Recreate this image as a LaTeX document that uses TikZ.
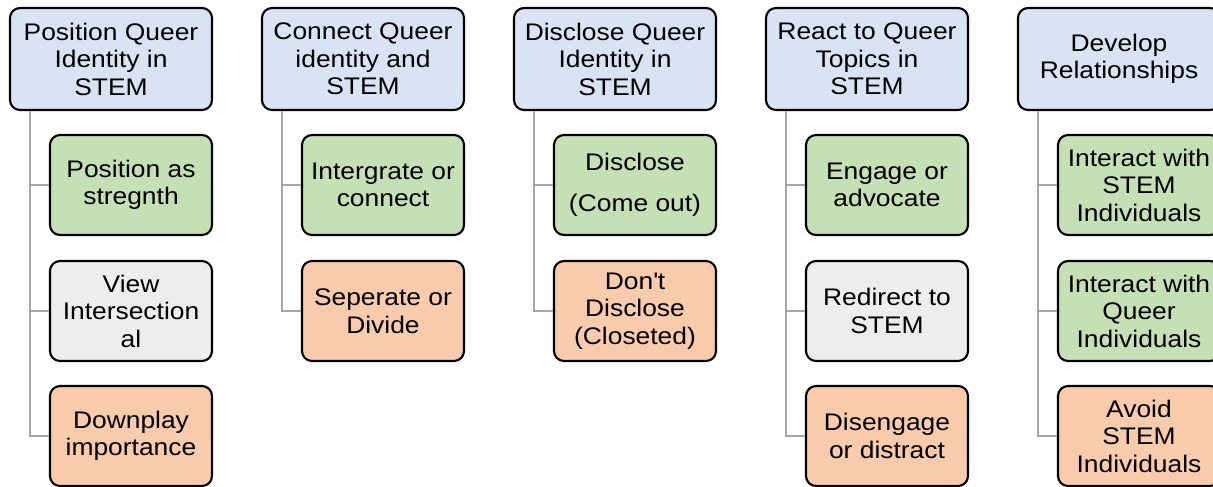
\documentclass[tikz,border=0pt]{standalone}
\usepackage{fontspec}
\setmainfont{Liberation Sans}[FakeStretch=1.1]
\usepackage{tikz}
\definecolor{headblue}{HTML}{DAE3F3}
\definecolor{posgreen}{HTML}{C5E0B4}
\definecolor{midgray}{HTML}{EDEDED}
\definecolor{negorange}{HTML}{F8CBAD}
\definecolor{linkgray}{HTML}{A6A6A6}

\begin{document}
\begin{tikzpicture}[x=0.75pt,y=-0.75pt,
  box/.style={shape=rectangle,rounded corners=7.5pt,draw=black,line width=1.6pt,align=center,inner sep=0pt,font=\fontsize{18}{20.6}\selectfont},
  head/.style={box,fill=headblue,minimum width=151.5pt,minimum height=76.5pt},
  leaf/.style={box,minimum width=121.5pt,minimum height=75pt},
  goodbox/.style={leaf,fill=posgreen},
  midbox/.style={leaf,fill=midgray},
  badbox/.style={leaf,fill=negorange},
  link/.style={draw=linkgray,line width=1.5pt}]
\useasboundingbox (0,0) rectangle (1213,486);
\node[head] (P) at (111,59) {Position Queer\\Identity in\\STEM};
\node[head] (C) at (363,59) {Connect Queer\\identity and\\STEM};
\node[head] (D) at (615,59) {Disclose Queer\\Identity in\\STEM};
\node[head] (R) at (867,59) {React to Queer\\Topics in\\STEM};
\node[head] (V) at (1119,59) {Develop\\Relationships};
\node[goodbox] (P1) at (131,185) {Position as\\stregnth};
\node[midbox] (P2) at (131,311) {View\\Intersection\\al};
\node[badbox] (P3) at (131,436) {Downplay\\importance};
\node[goodbox] (C1) at (383,185) {Intergrate or\\connect};
\node[badbox] (C2) at (383,311) {Seperate or\\Divide};
\node[goodbox] (D1) at (635,185) {Disclose\\[10pt](Come out)};
\node[badbox] (D2) at (635,311) {Don\textquotesingle t\\Disclose\\(Closeted)};
\node[goodbox] (R1) at (887,185) {Engage or\\advocate};
\node[midbox] (R2) at (887,311) {Redirect to\\STEM};
\node[badbox] (R3) at (887,436) {Disengage\\or distract};
\node[goodbox] (V1) at (1139,185) {Interact with\\STEM\\Individuals};
\node[goodbox] (V2) at (1139,311) {Interact with\\Queer\\Individuals};
\node[badbox] (V3) at (1139,436) {Avoid\\STEM\\Individuals};
\path [link] ([xshift=15.75pt]P.south west) |- (P1.west);
\path [link] ([xshift=15.75pt]P.south west) |- (P2.west);
\path [link] ([xshift=15.75pt]P.south west) |- (P3.west);
\path [link] ([xshift=15.75pt]C.south west) |- (C1.west);
\path [link] ([xshift=15.75pt]C.south west) |- (C2.west);
\path [link] ([xshift=15.75pt]D.south west) |- (D1.west);
\path [link] ([xshift=15.75pt]D.south west) |- (D2.west);
\path [link] ([xshift=15.75pt]R.south west) |- (R1.west);
\path [link] ([xshift=15.75pt]R.south west) |- (R2.west);
\path [link] ([xshift=15.75pt]R.south west) |- (R3.west);
\path [link] ([xshift=15.75pt]V.south west) |- (V1.west);
\path [link] ([xshift=15.75pt]V.south west) |- (V2.west);
\path [link] ([xshift=15.75pt]V.south west) |- (V3.west);
\end{tikzpicture}
\end{document}
